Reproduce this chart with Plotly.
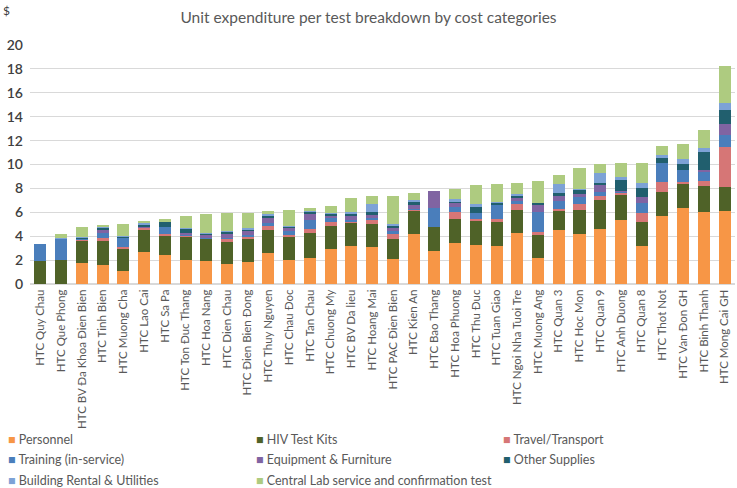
import plotly.graph_objects as go

categories = ["HTC Quy Chau", "HTC Que Phong", "HTC BV Đa Khoa Đien Bien", "HTC Tinh Bien",
              "HTC Muong Cha", "HTC Lao Cai", "HTC Sa Pa", "HTC Ton Đuc Thang", "HTC Hoa Nang",
              "HTC Dien Chau", "HTC Đien Bien Đong", "HTC Thuy Nguyen", "HTC Chau Đoc",
              "HTC Tan Chau", "HTC Chuong My", "HTC BV Da lieu", "HTC Hoang Mai",
              "HTC PAC Đien Bien", "HTC Kien An", "HTC Bao Thang", "HTC Hoa Phuong",
              "HTC Thu Đuc", "HTC Tuan Giao", "HTC Ngoi Nha Tuoi Tre", "HTC Muong Ang",
              "HTC Quan 3", "HTC Hoc Mon", "HTC Quan 9", "HTC Anh Duong", "HTC Quan 8",
              "HTC Thot Not", "HTC Van Đon GH", "HTC Binh Thanh", "HTC Mong Cai GH"]

personnel = [0, 0, 1.75, 1.56, 1.06, 2.65, 2.44, 1.97, 1.94, 1.65, 1.85, 2.6, 2.0,
             2.2, 2.92, 3.2, 3.1, 2.08, 4.22, 2.8, 3.47, 3.25, 3.19, 4.28, 2.14,
             4.56, 4.22, 4.64, 5.39, 3.14, 5.69, 6.33, 6.03, 6.08]
hiv_test_kits = [1.95, 2.0, 1.93, 2.04, 1.9, 1.95, 1.6, 2.0, 1.86, 1.9, 1.92, 1.9, 1.92,
                 2.05, 1.94, 1.94, 1.93, 1.67, 1.97, 1.95, 1.97, 2.08, 2.0, 1.94, 1.94,
                 1.55, 1.95, 2.39, 2.08, 2.08, 2.0, 2.0, 2.16, 2.0]
travel = [0, 0, 0.03, 0.25, 0.12, 0.12, 0.14, 0.05, 0.03, 0.22, 0.22, 0.35, 0.22,
          0.33, 0.36, 0.05, 0.38, 0.45, 0.05, 0, 0.59, 0.11, 0.28, 0.5, 0.31,
          0.17, 0.5, 0.3, 0.22, 0.72, 0.84, 0.2, 0.45, 3.36]
training = [1.37, 1.77, 0.1, 0.39, 0.78, 0, 0.63, 0.05, 0.05, 0.1, 0.15, 0.25, 0.3,
            0.8, 0.3, 0.2, 0.1, 0.25, 0.05, 1.58, 0.44, 0.5, 1.2, 0.22, 1.61,
            0.66, 0.61, 0.39, 0.05, 0.84, 1.61, 1.05, 0.8, 1.06]
equipment = [0, 0, 0, 0.35, 0, 0.05, 0, 0.2, 0.3, 0.35, 0.35, 0.45, 0.26,
             0.5, 0.2, 0.3, 0.3, 0.25, 0.3, 1.45, 0.33, 0, 0, 0.25, 0.67,
             0.45, 0.22, 0.53, 0.05, 0.5, 0, 0, 0.1, 0.86]
other_supplies = [0, 0, 0.07, 0.12, 0.11, 0.22, 0.4, 0.35, 0.05, 0.17, 0.1, 0.15, 0.1,
                  0.15, 0.15, 0.2, 0.25, 0.2, 0.35, 0, 0.14, 0.5, 0.11, 0.2, 0.13,
                  0.22, 0.44, 0.19, 0.88, 0.75, 0.42, 0.5, 1.54, 1.22]
building = [0, 0.08, 0.03, 0.1, 0.03, 0.13, 0.05, 0.07, 0.03, 0.05, 0.1, 0.15, 0.05,
            0.05, 0.1, 0.1, 0.6, 0.1, 0.1, 0, 0.14, 0.28, 0.05, 0.17, 0,
            0.72, 0.05, 0.84, 0.27, 0.39, 0.25, 0.39, 0.31, 0.56]
central_lab = [0, 0.35, 0.9, 0.1, 1.0, 0.08, 0.15, 1.0, 1.62, 1.5, 1.25, 0.25, 1.35,
               0.32, 0.55, 1.2, 0.72, 2.4, 0.55, 0, 0.89, 1.58, 1.56, 0.91, 1.84,
               0.75, 1.73, 0.78, 1.17, 1.72, 0.77, 1.28, 1.53, 3.11]

series = [
    ("Personnel", personnel, "#F79646"),
    ("HIV Test Kits", hiv_test_kits, "#4F6228"),
    ("Travel/Transport", travel, "#D67676"),
    ("Training (in-service)", training, "#4A7EBB"),
    ("Equipment & Furniture", equipment, "#8064A2"),
    ("Other Supplies", other_supplies, "#215F6E"),
    ("Building Rental & Utilities", building, "#7DA2D6"),
    ("Central Lab service and confirmation test", central_lab, "#AECB80"),
]

W, H = 737, 488
ML, MR, MT, MB = 30, 2, 45, 204
PW, PH = W - ML - MR, H - MT - MB

fig = go.Figure()
for name, vals, color in series:
    fig.add_trace(go.Bar(x=categories, y=vals, name=name, marker_color=color,
                         marker_line_width=0))

font_family = "Lato, 'Open Sans', sans-serif"

# manual legend (3 columns x 3 rows) with small square markers
annotations = []
col_px = [6, 254, 501]
row_px = [439, 459, 480]
for i, (name, vals, color) in enumerate(series):
    r, c = divmod(i, 3)
    annotations.append(dict(
        text=f"<span style='color:{color}'>■</span> {name}",
        xref="paper", yref="paper",
        x=(col_px[c] - ML) / PW, y=(H - MB - row_px[r]) / PH,
        xanchor="left", yanchor="middle", showarrow=False,
        font=dict(size=12.5, color="#595959", family=font_family)))
annotations.append(dict(text="$", xref="paper", yref="paper",
                        x=(1 - ML) / PW, y=(H - MB - 10) / PH,
                        xanchor="left", yanchor="middle", showarrow=False,
                        font=dict(size=12, color="#404040", family=font_family)))

fig.update_layout(
    barmode="stack",
    bargap=0.42,
    width=W, height=H,
    margin=dict(l=ML, r=MR, t=MT, b=MB),
    plot_bgcolor="white", paper_bgcolor="white",
    font=dict(family=font_family, color="#595959"),
    title=dict(text="Unit expenditure per test breakdown by cost categories",
               x=0.5, xanchor="center", y=1 - 18 / H, yanchor="middle",
               font=dict(size=15.5, color="#595959", family=font_family)),
    showlegend=False,
    annotations=annotations,
)
fig.update_yaxes(range=[0, 20], dtick=2, showgrid=True, gridcolor="#D9D9D9",
                 gridwidth=1, zeroline=True, zerolinecolor="#D9D9D9",
                 tickfont=dict(size=14, color="#404040", weight=600), ticks="",
                 ticklabelstandoff=6, automargin=False)
fig.update_xaxes(tickangle=-90, tickfont=dict(size=11.5, color="#595959"),
                 showline=True, linecolor="#D9D9D9", ticks="", automargin=False)

fig.write_html("out.html", config={"displayModeBar": False},
               post_script="document.body.style.margin='0';document.body.style.overflow='hidden';")
